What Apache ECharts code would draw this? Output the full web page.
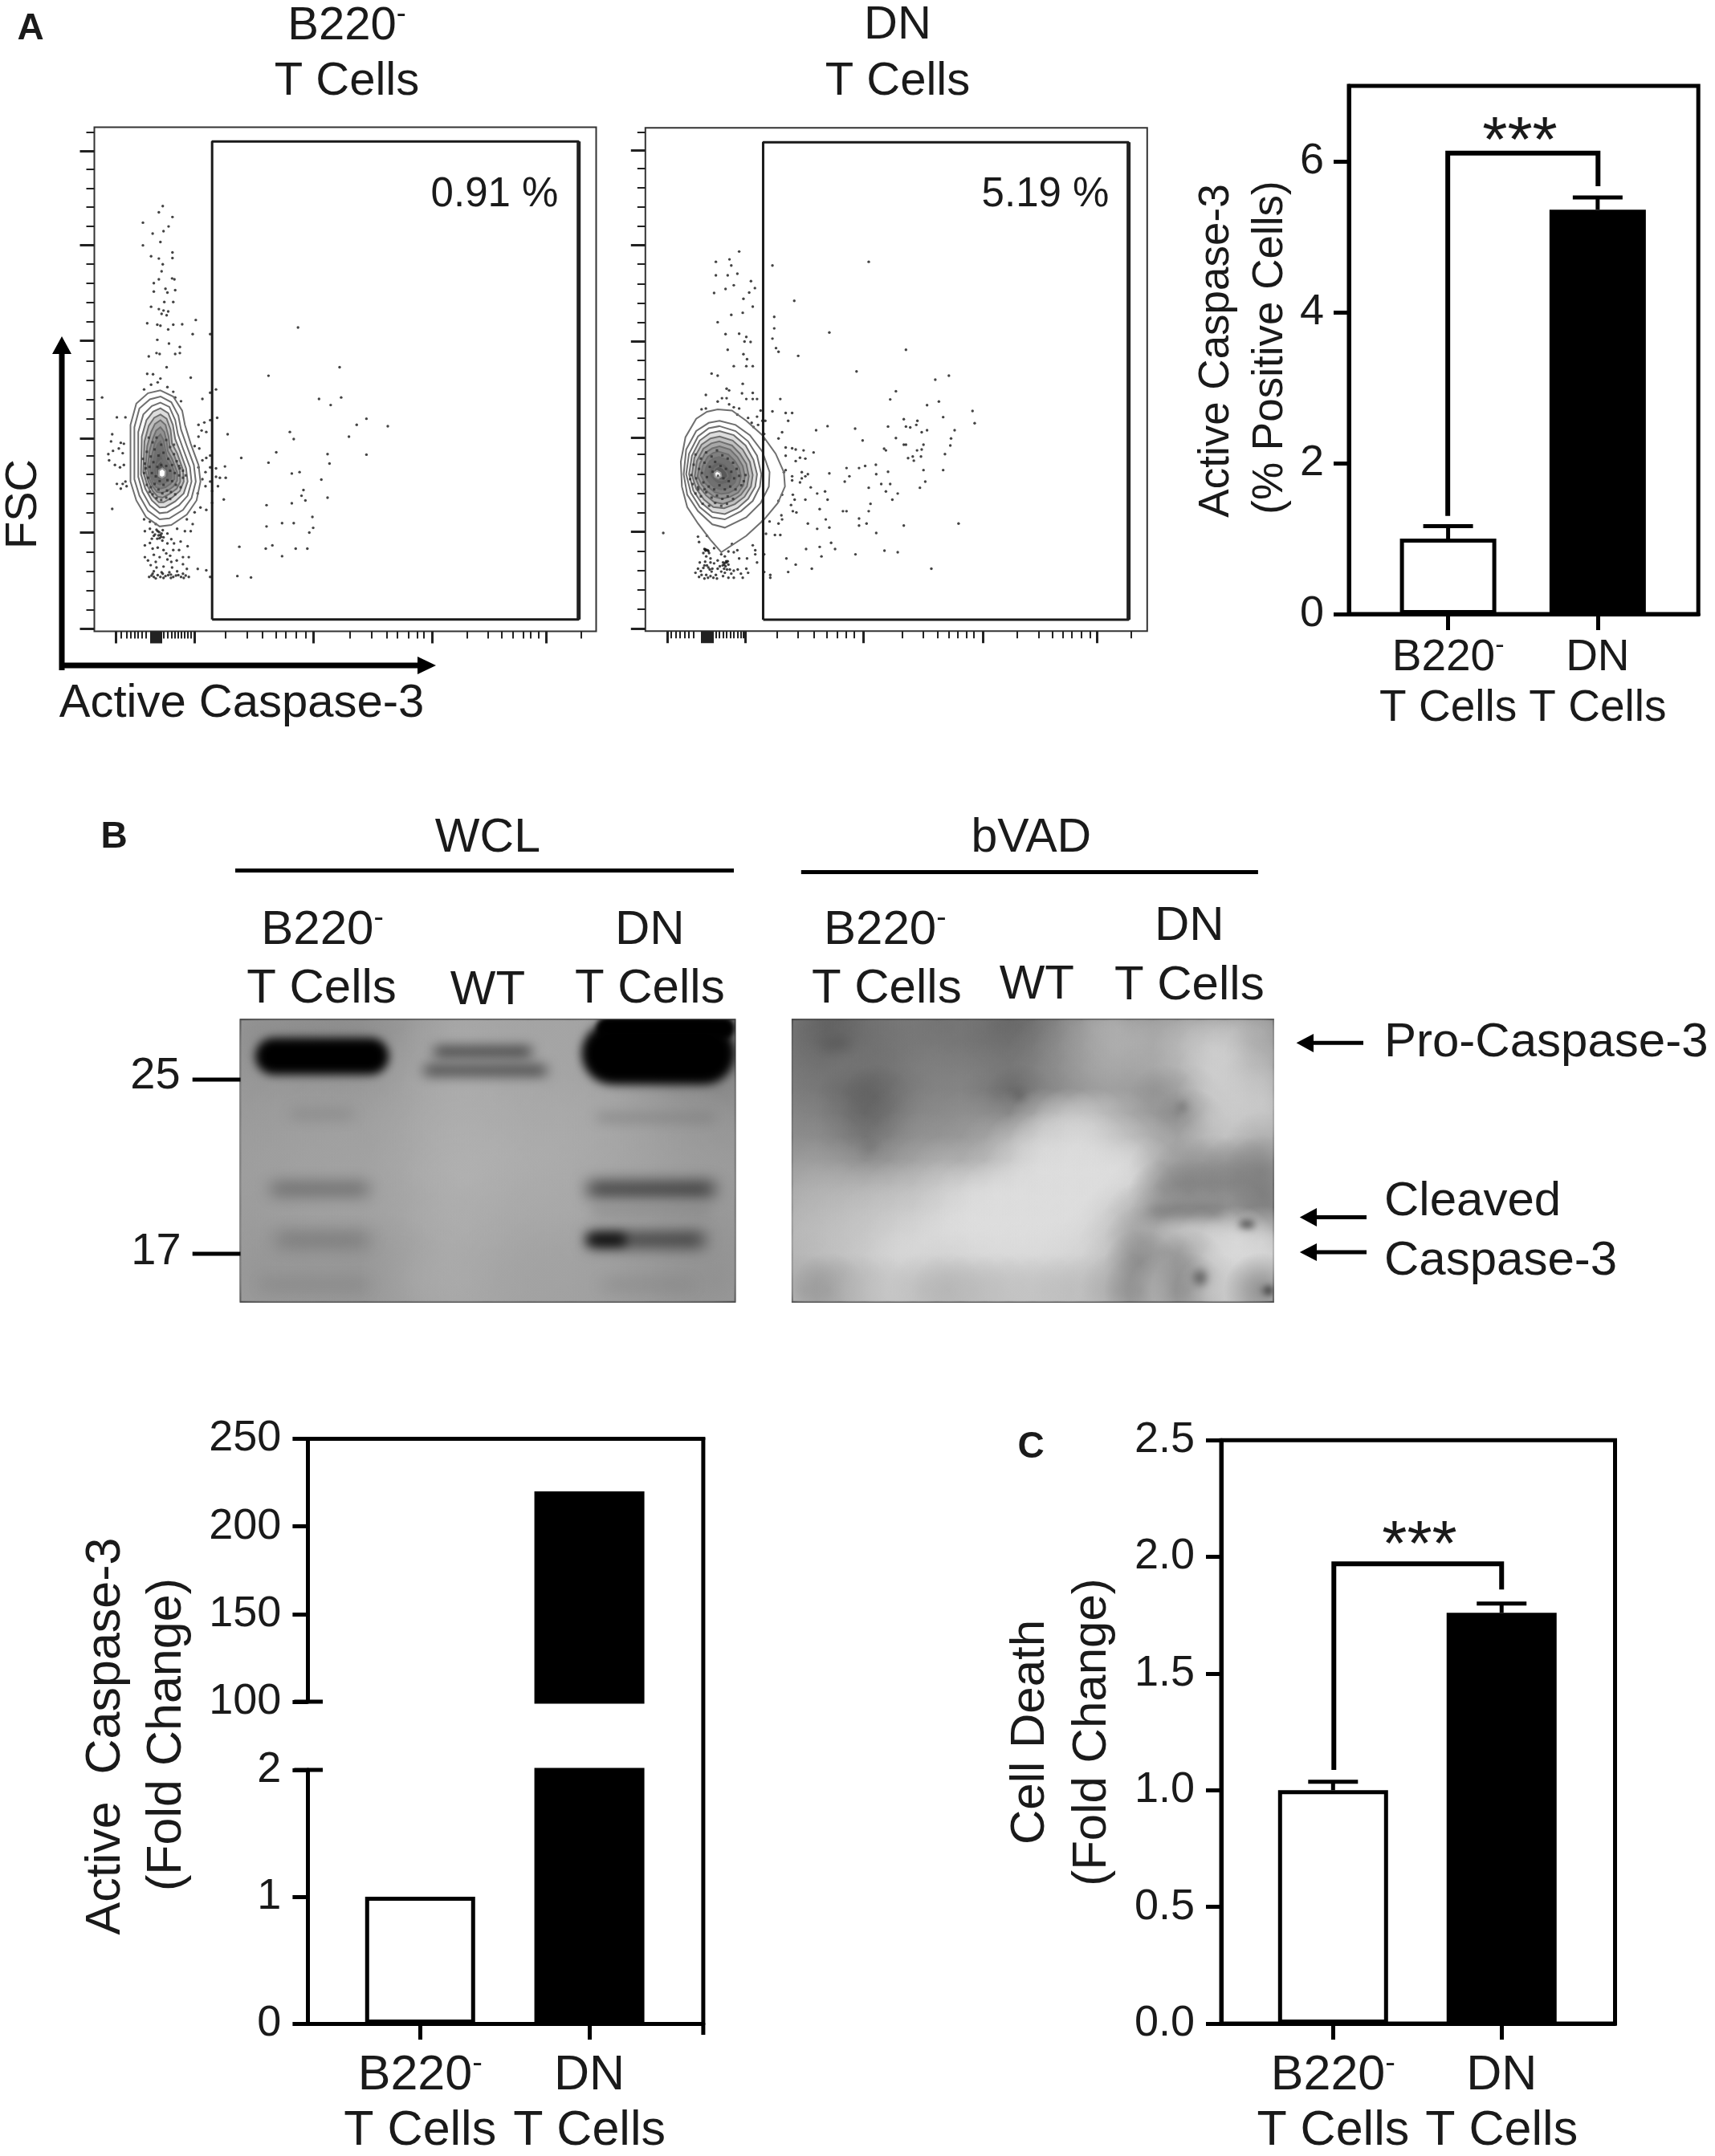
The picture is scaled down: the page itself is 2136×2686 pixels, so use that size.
<!DOCTYPE html>
<html>
<head>
<meta charset="utf-8">
<title>Caspase-3 figure</title>
<script src="https://cdn.jsdelivr.net/npm/echarts@6/dist/echarts.min.js"></script>
<style>
html, body { margin: 0; padding: 0; background: #fff; }
#main { width: 2136px; height: 2686px; }
</style>
</head>
<body>
<div id="main"></div>
<script>
// flow plots, values are instrument channels
var flow1Dots = [[176,900],[166,887],[201,877],[125,865],[191,857],[178,847],[150,842],[170,824],[125,817],[201,802],[201,790],[146,794],[166,789],[176,777],[173,762],[166,745],[153,737],[200,747],[206,745],[183,725],[153,719],[208,722],[188,717],[180,697],[146,687],[203,697],[166,682],[178,679],[190,677],[173,672],[186,669],[136,652],[162,649],[170,647],[203,649],[226,650],[261,659],[190,639],[253,629],[162,617],[192,609],[220,602],[140,582],[160,589],[168,587],[208,587],[220,589],[186,559],[136,545],[151,544],[170,535],[248,537],[163,527],[128,512],[146,522],[188,517],[203,507],[208,495],[223,487],
[278,492],[313,512],[298,505],[20,495],[298,629],
[58,453],[80,453],[46,417],[43,402],[68,399],[76,397],[63,387],[36,375],[48,382],[73,377],[38,362],[53,352],[66,347],[76,352],[58,312],[73,312],[80,317],[68,302],[83,307],[46,259],
[268,437],[283,442],[298,447],[316,452],[276,425],[288,422],[268,412],[343,417],[258,392],[270,387],[288,367],[298,372],[278,362],[268,347],[286,337],[298,347],[313,345],[336,349],[313,327],[323,325],[338,325],[278,322],[298,317],[286,307],[318,307],[266,292],[303,297],[333,279],[303,272],[288,257],[273,262],[258,252],[238,237],[253,227],
[128,237],[143,232],[158,227],[143,217],[163,212],[173,207],[188,207],[213,217],[233,212],[248,212],[130,212],[153,202],[168,197],[178,199],[198,195],[218,172],[130,182],[143,187],[163,177],[178,172],[203,172],[153,162],[168,157],[188,152],[228,157],[243,157],[130,157],[158,147],[198,147],[228,142],[178,137],[238,132],[153,127],[173,125],[193,125],[213,127],[228,122],[141,115],[153,115],[163,119],[183,117],[203,115],[223,115],[243,115],[266,132],[288,129],[298,115],
[150,210],[156,205],[165,203],[172,200],[160,215],[176,214],[147,118],[190,119],[197,120],[210,118],[216,119],[235,118],[170,115],[176,122],[145,140],[185,165],[195,160],[150,175],[222,190],[240,180],[167,210],[170,204],[175,192],[162,196],[148,196],[188,186],[205,186],[138,150],[212,150],[160,135],[200,135],[150,122],[158,112],[178,113],[197,113],[230,113],
[368,117],[403,114],[373,179],[441,175],[458,182],[483,159],[518,175],[548,175],[443,222],[483,229],[513,229],[553,209],[563,219],[561,242],[443,267],[508,271],[543,277],[533,287],[538,299],[600,283],[584,321],[508,334],[528,337],[605,355],[600,375],[448,357],[378,367],[468,379],[513,407],[503,422],[655,412],[700,374],[675,437],[700,450],[755,434],[578,492],[608,479],[635,495],[631,559],[448,541],[524,643]];

var flow1Core = [[140,410],[150,400],[160,410],[172,395],[185,405],[195,390],[205,375],[135,380],[145,370],[155,385],[165,372],[178,378],[190,365],[200,352],[212,360],[220,345],[130,355],[142,348],[152,358],[162,348],[172,352],[185,350],[195,340],[207,335],[218,330],[228,325],[128,335],[138,325],[148,335],[158,328],[168,318],[178,310],[188,320],[200,318],[210,310],[222,305],[135,310],[145,305],[155,312],[165,300],[175,292],[187,298],[197,295],[208,290],[150,290],[160,282],[172,278],[185,283],[195,280],[142,295],[132,345],[125,365],[218,350],[228,340],[235,330],[205,395]];

var flow2Dots = [[262,924],[197,899],[235,905],[240,890],[355,890],[624,899],[197,866],[230,866],[257,870],[295,852],[247,842],[224,833],[290,824],[306,835],[192,823],[274,809],[416,804],[300,790],[272,775],[240,770],[360,765],[202,752],[360,737],[262,724],[224,723],[514,727],[282,716],[277,705],[294,704],[355,712],[365,689],[372,680],[230,685],[274,674],[284,662],[427,670],[247,645],[282,645],[300,645],[590,632],[728,685],[185,627],[202,622],[272,602],[227,590],[234,586],[300,580],[169,575],[270,579],[227,567],[214,567],[202,559],[282,565],[300,565],[312,565],[377,565],[234,552],[169,542],[157,540],[247,545],[262,542],[355,535],[392,531],[410,531],[322,537],[287,519],[312,522],[327,512],[335,512],[399,512],[257,527],[297,507],[315,502],[302,497],[332,480],[382,484],[372,469],[332,467],[477,489],[509,499],[586,493],[607,464],[678,498],[700,584],[684,564],[810,612],[848,622],[787,550],[820,559],[722,516],[760,512],[728,498],[740,496],[757,502],[772,484],[787,489],[700,470],[722,454],[728,454],[832,521],[914,536],[920,506],[864,489],[854,469],[852,452],[777,454],[772,442],[759,440],[667,444],[672,440],[837,431],[770,425],[747,425],[734,421],[750,415],[832,392],[777,392],[782,364],[767,349],
[392,447],[410,445],[420,442],[442,440],[470,435],[392,427],[420,414],[432,422],[447,420],[392,392],[387,387],[437,387],[454,382],[410,377],[410,367],[447,377],[437,372],[432,362],[462,350],[480,335],[502,340],[514,384],[562,397],[570,377],[557,364],[597,397],[614,402],[644,405],[645,382],[678,388],[659,358],[684,358],[624,349],[672,340],[705,335],[690,320],[629,310],[624,292],[412,332],[417,320],[372,317],[382,332],[407,307],[412,292],[422,289],[447,320],[487,297],[509,320],[552,292],[562,292],[597,274],[597,257],[618,262],[645,239],[722,257],[875,262],[454,262],[480,249],[504,272],[514,252],[380,282],[382,272],[347,267],[327,267],[372,262],[337,237],[362,234],[377,234],[449,200],[487,205],[519,215],[530,200],[492,182],[587,187],[668,196],[705,192],[799,152],[465,152],[420,162],[399,144],[394,177],[332,187],[332,144],[349,137],[349,130],[50,239],
[147,230],[172,232],[150,217],[242,212],[300,209],[167,199],[174,197],[192,202],[232,194],[247,192],[257,197],[307,197],[170,182],[182,177],[212,187],[222,182],[262,177],[307,187],[152,167],[167,169],[182,167],[202,172],[217,167],[227,167],[232,162],[284,177],[312,167],[147,152],[162,154],[187,152],[202,152],[220,152],[247,147],[282,152],[140,142],[157,137],[170,137],[182,134],[197,137],[217,134],[232,130],[247,130],[267,140],[287,142],[175,130],[222,142],
[165,200],[170,198],[176,195],[168,196],[222,166],[226,170],[220,162],[230,170],[216,160],[224,158],[172,160],[176,155],[180,150],[192,165],[208,158],[155,146],[240,140],[162,190],[178,190],[165,160],[185,145],[200,128],[212,145],[150,132],[165,128],[190,130],[228,150],[236,150],[258,150],[272,130]];

var flow2Core = [[140,430],[155,420],[170,435],[185,425],[200,440],[215,428],[230,420],[245,410],[135,405],[150,395],[165,410],[180,400],[195,412],[210,402],[225,395],[240,388],[255,395],[128,380],[142,372],[158,385],[172,375],[188,388],[203,378],[218,372],[233,365],[248,372],[262,378],[132,358],[147,350],[162,362],[177,352],[192,345],[207,355],[222,345],[237,352],[252,345],[268,355],[275,365],[140,335],[155,328],[170,338],[185,325],[200,330],[215,322],[230,328],[245,322],[160,310],[178,305],[195,312],[212,305],[228,310],[148,345],[165,345],[125,370],[280,380]];

var flow1Contours = [
    [[170,510],[203,497],[226,467],[233,437],[248,397],[268,352],[273,317],[263,277],[238,247],[198,225],[168,222],[133,242],[108,277],[93,317],[93,437],[108,482],[138,504]],
    [[170,497],[198,485],[216,457],[223,427],[238,392],[256,352],[261,317],[250,282],[228,257],[193,239],[168,237],[138,255],[116,287],[103,322],[103,432],[116,472],[143,491]],
    [[170,484],[193,475],[208,447],[215,417],[228,387],[246,347],[250,317],[240,287],[218,267],[188,252],[168,250],[143,267],[124,295],[113,327],[113,422],[126,459],[148,477]],
    [[170,472],[190,462],[202,437],[208,407],[220,382],[236,345],[240,317],[230,292],[208,275],[183,263],[168,262],[148,277],[131,302],[120,332],[122,412],[134,447],[151,465]],
    [[170,459],[186,450],[196,427],[200,397],[213,377],[228,342],[230,317],[220,297],[200,283],[178,273],[166,273],[150,287],[136,309],[126,337],[129,402],[140,435],[154,452]],
    [[170,447],[183,437],[191,412],[194,389],[206,371],[220,339],[221,317],[212,302],[194,291],[176,283],[163,285],[150,297],[139,317],[131,342],[136,392],[146,422],[156,439]],
    [[170,432],[180,422],[186,402],[189,382],[200,365],[213,337],[213,319],[204,307],[188,297],[173,293],[161,295],[150,307],[142,322],[137,347],[142,382],[151,409],[159,425]],
    [[170,417],[178,405],[182,387],[186,372],[196,359],[206,337],[206,322],[196,312],[183,305],[170,302],[159,305],[150,315],[145,329],[143,349],[148,372],[155,397],[162,410]],
    [[170,402],[176,389],[179,377],[184,362],[192,352],[199,335],[198,325],[189,317],[178,313],[168,311],[158,315],[151,323],[148,335],[149,352],[154,369],[159,387],[164,397]],
    [[170,382],[175,369],[180,355],[188,345],[192,333],[190,327],[182,323],[170,320],[160,323],[154,331],[153,342],[156,357],[161,372]],
    [[172,362],[180,349],[184,335],[178,329],[168,328],[160,333],[159,343],[163,355]],
    [[175,345],[183,339],[182,329],[174,325],[166,329],[166,340]]
];

var flow2Contours = [
    [[202,540],[242,537],[282,512],[327,477],[364,432],[387,387],[390,352],[370,312],[332,272],[282,232],[212,192],[182,222],[147,262],[117,302],[102,352],[99,412],[112,472],[142,517],[172,534]],
    [[207,512],[252,502],[292,477],[327,437],[347,387],[345,352],[322,312],[282,277],[222,252],[187,260],[147,292],[117,332],[107,382],[114,442],[142,487],[177,507]],
    [[207,499],[252,487],[287,462],[312,427],[324,382],[320,352],[300,317],[267,292],[222,272],[187,277],[152,302],[127,337],[114,382],[122,432],[147,474],[177,494]],
    [[207,487],[247,477],[280,452],[302,417],[312,382],[307,352],[287,322],[257,299],[222,285],[187,290],[157,312],[134,342],[122,382],[130,427],[152,464],[180,482]],
    [[207,474],[244,464],[272,442],[292,412],[300,380],[295,352],[277,327],[250,309],[220,299],[190,302],[164,320],[142,347],[130,380],[137,422],[157,454],[182,469]],
    [[207,462],[242,452],[264,432],[282,407],[289,377],[284,352],[267,332],[244,318],[217,310],[192,314],[170,330],[150,352],[138,377],[144,414],[162,444],[184,457]],
    [[207,450],[237,442],[257,424],[272,402],[278,377],[274,355],[259,337],[237,327],[214,322],[192,327],[174,339],[157,357],[146,377],[152,407],[167,434],[187,445]],
    [[205,437],[232,430],[250,414],[262,397],[267,377],[262,357],[249,344],[232,336],[212,334],[194,338],[179,349],[165,362],[155,380],[160,402],[174,424],[190,434]],
    [[205,424],[227,418],[242,405],[252,392],[256,377],[250,362],[239,352],[224,346],[210,345],[195,349],[183,358],[172,370],[165,382],[170,399],[180,414],[192,421]],
    [[205,412],[222,407],[234,396],[242,385],[244,375],[238,365],[227,359],[214,356],[200,359],[189,367],[180,377],[177,387],[184,402],[194,410]],
    [[204,402],[217,397],[227,387],[231,377],[224,370],[212,367],[200,370],[192,377],[189,387],[195,397]],
    [[200,390],[210,385],[212,377],[204,372],[195,376],[193,385]]
];

var flow1Gate = [[303,25],[303,1037],[1246,1037],[1246,25],[303,25]];
var flow2Gate = [[329,28],[329,1190],[1350,1190],[1350,28],[329,28]];

var flow1XMajor = [56,146,149,152,155,158,161,164,167,170,258,563,870,1163];
var flow1XMinor = [68,83,93,103,113,123,133,178,188,198,208,216,224,232,240,248,338,393,433,468,493,518,543,658,713,753,780,808,830,848,958,1013,1048,1076,1103,1123,1143,1253];
var flow1YMajor = [5,210,409,615,817,1017];
var flow1YMinor = [46,86,127,168,251,291,332,372,450,491,532,573,656,697,737,778,858,898,938,978,1057];
var flow2XMajor = [62,157,160,163,166,169,172,175,178,181,184,187,280,610,944,1262];
var flow2XMinor = [72,85,97,109,122,134,197,207,217,227,237,247,257,267,274,367,427,470,507,537,560,582,717,777,817,847,872,897,917,1039,1099,1137,1167,1192,1217,1242,1357];
var flow2YMajor = [6,242,471,705,940,1170];
var flow2YMinor = [53,100,147,194,289,336,383,430,518,565,612,659,752,799,846,893,986,1033,1080,1127,1214];

// blots, grey level per cell
var wclGrey = [
    [140,140,138,140,155,170,165,165,165,160,140,130],
    [150,150,148,150,165,172,168,165,165,160,140,130],
    [155,158,160,160,168,175,172,170,170,165,158,150],
    [158,160,162,162,170,178,175,172,170,165,160,155],
    [155,158,160,160,168,175,170,168,168,162,158,150],
    [150,150,150,150,165,172,165,162,162,158,150,145]
];
// x from, x to, y centre, height, grey, blur
var wclBands = [
    [3,30,13,13,0,6],[39,59,11.4,3,35,8],[37,62,18,3,45,8],
    [69,100,12,22,0,6],[72,100,3,8,0,3],
    [10,23,33.5,2.5,130,9],[72,96,34.7,2,122,8],
    [6,26,60,3.5,88,10],[70,96,60,4,22,10],
    [7,26,78,3.5,105,11],[70,94,78,4,28,10],[70,78,78,4,5,7],
    [71,95,68,2,128,8],[4,26,94,2.5,128,10],[73,92,94,2,128,10]
];
var bvadGrey = [
    [112,92,97,112,117,120,112,117,108,98,115,138,162,180,165,165,175,180,180,170],
    [112,102,107,112,117,120,120,117,112,112,125,145,163,175,175,170,190,205,205,170],
    [118,112,117,112,117,127,127,127,122,118,132,145,162,170,165,170,185,210,205,185],
    [123,118,102,92,112,127,132,132,118,100,130,142,155,160,155,140,165,205,205,200],
    [133,128,112,98,118,138,138,145,142,140,183,205,205,185,165,150,130,195,205,200],
    [140,140,125,115,135,147,148,155,168,195,215,215,220,205,190,170,165,190,195,170],
    [158,158,153,143,155,166,178,175,190,210,222,222,222,222,218,170,150,145,140,130],
    [172,178,178,183,188,193,205,215,222,222,222,222,222,222,210,140,125,130,130,125],
    [180,185,190,195,200,205,215,222,222,222,222,222,222,205,175,155,150,150,150,125],
    [185,190,195,200,210,215,220,222,222,222,222,220,215,195,155,175,205,210,220,210],
    [180,190,195,205,215,215,210,215,218,218,218,215,210,190,130,155,140,205,220,215],
    [165,150,175,190,200,190,180,185,190,195,195,190,190,170,135,180,130,190,205,140]
];
var bvadBands = [[74,90,68,2,95,8],[93,96,72.5,2,50,5],[83.5,86,91.5,5,85,6],[98,100,96,3,50,4],[46,48,26.5,3,90,6],[15,17,45,3,105,7],[6,12,8.5,3,85,8],[80,82,31,3,120,5]];

// bar panels
var barPositions = [28.4, 71.2];
var barLabels = ['{n|B220}{s|-}\n{n|T Cells}', '{n|DN}\n{n|T Cells}'];
var casp3Values = [1.0, 5.36];
var casp3Errors = [1.165, 5.52];
var casp3Bracket = [[28.3,1.30],[28.3,6.11],[71.3,6.11],[71.3,5.67]];
var foldValues = [1, 220];
var deathValues = [1.0, 1.76];
var deathErrors = [1.036, 1.80];
var deathBracket = [[28.6,1.087],[28.6,1.97],[71.2,1.97],[71.2,1.86]];

var FONT = '"Liberation Sans", Arial, sans-serif';
var INK = '#1a1a1a';

var option = {
    animation: false,
    backgroundColor: '#fff',
    grid: [],
    xAxis: [],
    yAxis: [],
    series: [],
    graphic: { elements: [] }
};

var addGrid = function (g) {
    g.containLabel = false;
    option.grid.push(g);
    return option.grid.length - 1;
};

var flowTickAxis = function (gridIndex, max, position, values, len, width) {
    return {
        type: 'value', gridIndex: gridIndex, min: 0, max: max, position: position,
        splitLine: { show: false },
        axisLine: { show: false },
        axisLabel: { show: false },
        axisTick: { show: true, customValues: values, length: len, lineStyle: { color: '#222', width: width } }
    };
};

var renderContours = function (contours) {
    return function (params, api) {
        var i = params.dataIndex;
        var pts = contours[i].map(function (p) { return api.coord(p); });
        var isCentre = i === contours.length - 1;
        return {
            type: 'polygon',
            shape: { points: pts },
            style: {
                fill: isCentre ? '#fff' : (i >= 3 ? 'rgba(30,30,30,0.15)' : 'transparent'),
                stroke: isCentre ? '#999' : '#6f6f6f',
                lineWidth: 2
            }
        };
    };
};

var addFlow = function (box, xMax, yMax, dots, core, contours, gate, xMajor, xMinor, yMajor, yMinor) {
    var g = addGrid({ left: box[0], top: box[1], width: box[2], height: box[3], show: true, borderColor: '#333', borderWidth: 2, backgroundColor: '#fff' });
    var xi = option.xAxis.length, yi = option.yAxis.length;
    option.xAxis.push(flowTickAxis(g, xMax, 'bottom', xMajor, 15, 3), flowTickAxis(g, xMax, 'bottom', xMinor, 9, 2));
    option.yAxis.push(flowTickAxis(g, yMax, 'left', yMajor, 18, 3), flowTickAxis(g, yMax, 'left', yMinor, 10, 2));
    option.series.push({
        type: 'scatter', xAxisIndex: xi, yAxisIndex: yi, data: dots,
        symbol: 'circle', symbolSize: 3.4, itemStyle: { color: '#141414' }, silent: true, z: 2
    });
    option.series.push({
        type: 'custom', xAxisIndex: xi, yAxisIndex: yi, renderItem: renderContours(contours),
        data: contours.map(function (c) { return c[0]; }), encode: { x: 0, y: 1 }, silent: true, z: 3
    });
    option.series.push({
        type: 'scatter', xAxisIndex: xi, yAxisIndex: yi, data: core,
        symbol: 'rect', symbolSize: 3, itemStyle: { color: '#303030' }, silent: true, z: 3
    });
    option.series.push({
        type: 'line', xAxisIndex: xi, yAxisIndex: yi, data: gate, showSymbol: false, silent: true, z: 4,
        lineStyle: { color: '#1a1a1a', width: 3 }
    });
    option.series.push({
        type: 'line', xAxisIndex: xi, yAxisIndex: yi, data: [gate[2], gate[3]], showSymbol: false, silent: true, z: 4,
        lineStyle: { color: '#222', width: 5 }
    });
};

var softCell = function (params, api) {
    var c = api.coord([api.value(0), api.value(1)]);
    var s = api.size([api.value(2), api.value(3)]);
    var g = api.value(4);
    var col = function (a) { return 'rgba(' + g + ',' + g + ',' + g + ',' + a + ')'; };
    return {
        type: 'rect',
        shape: { x: c[0] - s[0], y: c[1] - s[1], width: s[0] * 2, height: s[1] * 2 },
        style: {
            fill: new echarts.graphic.RadialGradient(0.5, 0.5, 0.5, [
                { offset: 0, color: col(0.92) },
                { offset: 0.4, color: col(0.6) },
                { offset: 1, color: col(0) }
            ])
        }
    };
};

var softBand = function (params, api) {
    var a = api.coord([api.value(0), api.value(2)]);
    var b = api.coord([api.value(1), api.value(2)]);
    var s = api.size([0, api.value(3)]);
    var g = api.value(4);
    var col = 'rgb(' + g + ',' + g + ',' + g + ')';
    // only the blurred shadow lands on the blot
    return {
        type: 'rect',
        shape: { x: a[0] - 5000, y: a[1] - s[1] / 2, width: b[0] - a[0], height: s[1], r: s[1] / 2 },
        style: { fill: col, shadowColor: col, shadowBlur: api.value(5) * 2, shadowOffsetX: 5000 }
    };
};

var addBlot = function (box, grey, bands, bg) {
    var g = addGrid({ left: box[0], top: box[1], width: box[2], height: box[3], show: true, borderColor: '#222', borderWidth: 2, backgroundColor: bg });
    var base = { type: 'value', gridIndex: g, min: 0, max: 100, show: false };
    var xi = option.xAxis.length, yi = option.yAxis.length;
    option.xAxis.push(base);
    option.yAxis.push({ type: 'value', gridIndex: g, min: 0, max: 100, show: false, inverse: true });
    var rows = grey.length, cols = grey[0].length, cells = [];
    grey.forEach(function (row, r) {
        row.forEach(function (v, c) {
            cells.push([(c + 0.5) * 100 / cols, (r + 0.5) * 100 / rows, 160 / cols, 160 / rows, v]);
        });
    });
    option.series.push({
        type: 'custom', xAxisIndex: xi, yAxisIndex: yi, renderItem: softCell, data: cells,
        encode: { x: 0, y: 1 }, clip: true, silent: true, z: 2
    });
    option.series.push({
        type: 'custom', xAxisIndex: xi, yAxisIndex: yi, renderItem: softBand, data: bands,
        encode: { x: 0, y: 2 }, clip: true, silent: true, z: 3
    });
};

var renderError = function (params, api) {
    var x = api.value(0);
    var lo = api.coord([x, api.value(1)]);
    var hi = api.coord([x, api.value(2)]);
    var st = { stroke: '#000', lineWidth: 5 };
    return {
        type: 'group',
        children: [
            { type: 'line', shape: { x1: lo[0], y1: lo[1], x2: hi[0], y2: hi[1] }, style: st },
            { type: 'line', shape: { x1: hi[0] - 31, y1: hi[1], x2: hi[0] + 31, y2: hi[1] }, style: st }
        ]
    };
};

var xBarAxis = function (g, size, margin, position, showTicks) {
    return {
        type: 'value', gridIndex: g, min: 0, max: 100, position: position,
        splitLine: { show: false },
        axisLine: { show: true, lineStyle: { color: '#000', width: 5 } },
        axisTick: { show: showTicks, customValues: barPositions, length: 20, lineStyle: { color: '#000', width: 5 } },
        axisLabel: {
            show: showTicks, customValues: barPositions, margin: margin,
            formatter: function (v) { return barLabels[v < 50 ? 0 : 1]; },
            rich: {
                n: { fontFamily: FONT, fontSize: size, color: INK, lineHeight: size + 8 },
                s: { fontFamily: FONT, fontSize: size * 0.62, color: INK, lineHeight: size + 8, verticalAlign: 'top' }
            }
        }
    };
};

var yBarAxis = function (g, min, max, interval, ticks, margin, digits) {
    return {
        type: 'value', gridIndex: g, min: min, max: max, interval: interval,
        splitLine: { show: false },
        axisLine: { show: true, lineStyle: { color: '#000', width: 5 } },
        axisTick: { show: true, customValues: ticks, length: 19, lineStyle: { color: '#000', width: 5 } },
        axisLabel: {
            customValues: ticks, margin: margin, fontFamily: FONT, fontSize: 54, color: INK,
            formatter: function (v) { return v.toFixed(digits); }
        }
    };
};

var barData = function (values, keep) {
    var out = [];
    values.forEach(function (v, i) {
        if (keep && keep.indexOf(i) < 0) { return; }
        out.push({
            value: [barPositions[i], v],
            itemStyle: { color: i === 0 ? '#fff' : '#000', borderColor: '#000', borderWidth: 5 }
        });
    });
    return out;
};

var addBarSeries = function (xi, yi, values, keep, width) {
    option.series.push({ type: 'bar', xAxisIndex: xi, yAxisIndex: yi, data: barData(values, keep), barWidth: width, silent: true, z: 2 });
};

var addErrors = function (xi, yi, values, errors) {
    option.series.push({
        type: 'custom', xAxisIndex: xi, yAxisIndex: yi, renderItem: renderError, silent: true, z: 3,
        encode: { x: 0, y: [1, 2] },
        data: values.map(function (v, i) { return [barPositions[i], v, errors[i]]; })
    });
};

var addBracket = function (xi, yi, pts) {
    option.series.push({
        type: 'line', xAxisIndex: xi, yAxisIndex: yi, data: pts, showSymbol: false, silent: true, z: 3,
        lineStyle: { color: '#000', width: 6, join: 'miter', cap: 'butt' }
    });
};

// flow plots
addFlow([117.5, 158.5, 625, 628], 1291, 1067, flow1Dots, flow1Core, flow1Contours, flow1Gate, flow1XMajor, flow1XMinor, flow1YMajor, flow1YMinor);
addFlow([803.8, 159.3, 625, 627], 1402, 1225, flow2Dots, flow2Core, flow2Contours, flow2Gate, flow2XMajor, flow2XMinor, flow2YMajor, flow2YMinor);

// blots
addBlot([299.5, 1270.2, 616, 351.6], wclGrey, wclBands, '#a0a0a0');
addBlot([986.9, 1270.2, 599, 351.6], bvadGrey, bvadBands, new echarts.graphic.LinearGradient(0, 0, 0, 1, [
    { offset: 0, color: '#7c7c7c' },
    { offset: 0.5, color: '#a8a8a8' },
    { offset: 1, color: '#c4c4c4' }
]));

// % positive
var gA = addGrid({ left: 1680, top: 107, width: 435.2, height: 658, show: true, borderColor: '#000', borderWidth: 5 });
var xA = option.xAxis.length, yA = option.yAxis.length;
option.xAxis.push(xBarAxis(gA, 55, 23, 'bottom', true));
option.yAxis.push(yBarAxis(gA, 0, 7, 1, [0, 2, 4, 6], 31, 0));
addBarSeries(xA, yA, casp3Values, null, 120);
addErrors(xA, yA, casp3Values, casp3Errors);
addBracket(xA, yA, casp3Bracket);

// fold change, broken axis
var gUp = addGrid({ left: 383.4, top: 1792.6, width: 492.5, height: 327.4 });
var gLow = addGrid({ left: 383.4, top: 2205, width: 492.5, height: 327.7 });
var xUp = option.xAxis.length, yUp = option.yAxis.length;
option.xAxis.push(xBarAxis(gUp, 61, 24, 'top', false));
option.yAxis.push(yBarAxis(gUp, 100, 250, 50, [100, 150, 200, 250], 33, 0));
addBarSeries(xUp, yUp, foldValues, [1], 137);
var xLow = option.xAxis.length, yLow = option.yAxis.length;
option.xAxis.push(xBarAxis(gLow, 61, 31, 'bottom', true));
option.yAxis.push(yBarAxis(gLow, 0, 2, 1, [0, 1, 2], 33, 0));
addBarSeries(xLow, yLow, foldValues, null, 137);

// cell death
var gC = addGrid({ left: 1521, top: 1794.2, width: 490.5, height: 738.8, show: true, borderColor: '#000', borderWidth: 5 });
var xC = option.xAxis.length, yC = option.yAxis.length;
option.xAxis.push(xBarAxis(gC, 61, 31, 'bottom', true));
option.yAxis.push(yBarAxis(gC, 0, 2.5, 0.5, [0, 0.5, 1, 1.5, 2, 2.5], 33, 1));
addBarSeries(xC, yC, deathValues, null, 137);
addErrors(xC, yC, deathValues, deathErrors);
addBracket(xC, yC, deathBracket);

// loose text, lines and arrows
var els = option.graphic.elements;

var txt = function (text, x, y, size, opts) {
    opts = opts || {};
    els.push({
        type: 'text', x: x, y: y, rotation: opts.rotate ? Math.PI / 2 : 0, z: 20, silent: true,
        style: {
            text: text, fill: INK, align: opts.align || 'center', verticalAlign: 'middle',
            font: (opts.bold ? 'bold ' : '') + size + 'px ' + FONT,
            rich: {
                n: { font: size + 'px ' + FONT, fill: INK, lineHeight: size + 8 },
                s: { font: Math.round(size * 0.62) + 'px ' + FONT, fill: INK, lineHeight: size + 8, verticalAlign: 'top' }
            }
        }
    });
};

var seg = function (x1, y1, x2, y2, w, color) {
    els.push({
        type: 'line', z: 20, silent: true,
        shape: { x1: x1, y1: y1, x2: x2, y2: y2 },
        style: { stroke: color || '#000', lineWidth: w }
    });
};

var head = function (pts) {
    els.push({ type: 'polygon', z: 20, silent: true, shape: { points: pts }, style: { fill: '#000' } });
};

var B220 = '{n|B220}{s|-}';

txt('A', 38, 36, 46, { bold: true });
txt('B', 142, 1043, 46, { bold: true });
txt('C', 1284, 1803, 46, { bold: true });

txt(B220, 432, 33, 58);
txt('T Cells', 432, 102, 58);
txt('DN', 1118, 32, 58);
txt('T Cells', 1118, 102, 58);
txt('0.91 %', 616, 243, 51);
txt('5.19 %', 1302, 243, 51);
txt('Active Caspase-3', 301, 877, 58);
txt('FSC', 30, 628, 56, { rotate: true });

seg(77, 835, 77, 438, 7);
head([[77, 419], [65, 441], [89, 441]]);
seg(74, 829, 523, 829, 7);
head([[543, 829], [520, 818], [520, 840]]);

txt('Active Caspase-3', 1515, 437, 53, { rotate: true });
txt('(% Positive Cells)', 1582, 433, 53, { rotate: true });
txt('***', 1893, 179, 80);

txt('WCL', 607.4, 1045, 59);
seg(293, 1084.5, 914, 1084.5, 5);
txt(B220, 401.5, 1159, 60);
txt('T Cells', 400.5, 1232, 60);
txt('WT', 607.4, 1234, 60);
txt('DN', 809.3, 1159, 60);
txt('T Cells', 809.3, 1232, 60);
txt('25', 193.5, 1341, 56);
txt('17', 194.5, 1560, 56);
seg(239.7, 1345, 299.5, 1345, 5);
seg(239.7, 1562, 299.5, 1562, 5);

txt('bVAD', 1284.3, 1045, 59);
seg(997.8, 1086.6, 1566.9, 1086.6, 5);
txt(B220, 1102.3, 1159, 60);
txt('T Cells', 1104.3, 1232, 60);
txt('WT', 1291.3, 1227, 60);
txt('DN', 1481.3, 1154, 60);
txt('T Cells', 1481.3, 1228, 60);

txt('Pro-Caspase-3', 1724, 1299, 60, { align: 'left' });
txt('Cleaved', 1724, 1497, 60, { align: 'left' });
txt('Caspase-3', 1724, 1571, 60, { align: 'left' });
seg(1632, 1299.2, 1698, 1299.2, 5);
head([[1614.6, 1299.2], [1636, 1288], [1636, 1311]]);
seg(1636, 1516.4, 1702, 1516.4, 5);
head([[1618.8, 1516.4], [1640, 1505], [1640, 1528]]);
seg(1636, 1560, 1702, 1560, 5);
head([[1618.8, 1560], [1640, 1549], [1640, 1571]]);

txt('Active  Caspase-3', 132, 2163, 61, { rotate: true });
txt('(Fold Change)', 208, 2161, 61, { rotate: true });
seg(875.9, 1790, 875.9, 2535, 5);
seg(366.4, 2120, 402, 2120, 5);
seg(366.4, 2205, 402, 2205, 5);

txt('Cell Death', 1283, 2158, 60, { rotate: true });
txt('(Fold Change)', 1360, 2158, 60, { rotate: true });
txt('***', 1768, 1928, 80);

var chart = echarts.init(document.getElementById('main'), null, { renderer: 'canvas' });
chart.setOption(option);
</script>
</body>
</html>
